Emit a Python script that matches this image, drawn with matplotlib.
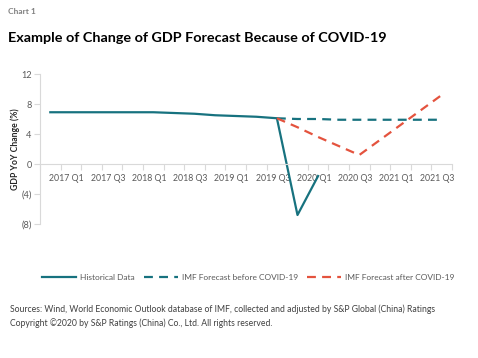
import matplotlib
matplotlib.use("Agg")
import matplotlib.pyplot as plt

plt.rcParams['font.family'] = ['Lato', 'DejaVu Sans']

# Data (quarterly, %)
quarters = ['2016 Q4', '2017 Q1', '2017 Q2', '2017 Q3', '2017 Q4', '2018 Q1', '2018 Q2',
            '2018 Q3', '2018 Q4', '2019 Q1', '2019 Q2', '2019 Q3', '2019 Q4', '2020 Q1',
            '2020 Q2', '2020 Q3', '2020 Q4', '2021 Q1', '2021 Q2', '2021 Q3']
historical = [6.9, 6.9, 6.9, 6.9, 6.9, 6.9, 6.8, 6.7, 6.5, 6.4, 6.3, 6.1, -6.8, -1.6]
imf_before = [6.1, 6.0, 6.0, 5.9, 5.9, 5.9, 5.9, 5.9, 5.9]
imf_after = [6.1, 4.9, 3.6, 2.4, 1.2, 3.2, 5.2, 7.2, 9.2]
forecast_start = 11

teal = '#17727F'
red = '#E4533E'
grey_text = '#595959'

fig = plt.figure(figsize=(4.78, 3.58), dpi=100)
ax = fig.add_axes([40 / 478, 1 - 224 / 358, 412 / 478, 150 / 358])

x_hist = list(range(len(historical)))
x_fc = list(range(forecast_start, forecast_start + len(imf_before)))

ax.plot(x_hist, historical, color=teal, lw=1.6, label='Historical Data')
ax.plot(x_fc, imf_before, color=teal, lw=1.6, ls=(0, (4, 2.8)), label='IMF Forecast before COVID-19')
ax.plot(x_fc, imf_after, color=red, lw=1.6, ls=(0, (4, 2.8)), label='IMF Forecast after COVID-19')

ax.set_xlim(-0.5, len(quarters) - 0.5)
ax.set_ylim(-8, 12)
ax.set_yticks([12, 8, 4, 0, -4, -8])
ax.set_yticklabels(['12', '8', '4', '0', '(4)', '(8)'])

# x axis sits at zero, ticks at category boundaries, labels every other quarter
ax.spines['bottom'].set_position(('data', 0))
ax.spines['top'].set_visible(False)
ax.spines['right'].set_visible(False)
for s in ['bottom', 'left']:
    ax.spines[s].set_color('#D9D9D9')
    ax.spines[s].set_linewidth(0.8)
ax.set_xticks([i - 0.5 for i in range(len(quarters) + 1)])
ax.set_xticklabels([])
ax.set_xticks([i - 0.2 for i in range(1, len(quarters), 2)], minor=True)
ax.set_xticklabels(quarters[1::2], minor=True)
ax.tick_params(axis='x', which='major', length=4, color='#D9D9D9', width=0.8)
ax.tick_params(axis='x', which='minor', length=0, pad=7, labelsize=6.3, labelcolor=grey_text)
ax.tick_params(axis='y', length=4, color='#D9D9D9', width=0.8, labelsize=6.6, labelcolor=grey_text, pad=2)

ax.set_ylabel('GDP YoY Change (%)', fontsize=6.2, fontweight='bold', color='#262626', labelpad=1)

fig.legend(loc='center', bbox_to_anchor=(248 / 478, 1 - 277 / 358), ncol=3, frameon=False,
           fontsize=6, labelcolor=grey_text, handlelength=4.1, handletextpad=0.45,
           columnspacing=1.1)

fig.text(8 / 478, 1 - 11 / 358, 'Chart 1', fontsize=6, fontweight='bold', color='#7F7F7F', va='center')
fig.text(8 / 478, 1 - 38 / 358, 'Example of Change of GDP Forecast Because of COVID-19',
         fontsize=10.4, fontweight='bold', color='black', va='center')
fig.text(10 / 478, 1 - 309 / 358,
         'Sources: Wind, World Economic Outlook database of IMF, collected and adjusted by S&P Global (China) Ratings',
         fontsize=6.2, color='#404040', va='center')
fig.text(10 / 478, 1 - 323 / 358,
         'Copyright \u00a92020 by S&P Ratings (China) Co., Ltd. All rights reserved.',
         fontsize=6.2, color='#404040', va='center')

fig.savefig('out.png', dpi=100)
